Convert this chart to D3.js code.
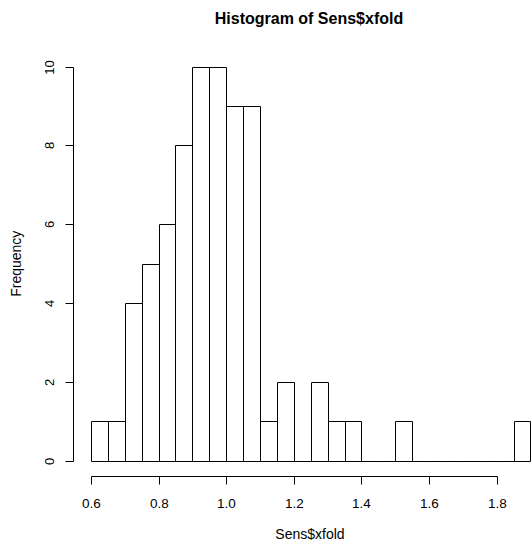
<!DOCTYPE html>
<html>
<head>
<meta charset="utf-8">
<script src="https://cdn.jsdelivr.net/npm/d3@7"></script>
<style>
  html, body { margin: 0; padding: 0; background: #fff; }
  svg { display: block; font-family: "Liberation Sans", Arial, Helvetica, sans-serif; }
</style>
</head>
<body>
<svg id="chart" width="532" height="544"></svg>
<script>
// Histogram bin edges (width 0.05) and counts per bin
const binEdges = [0.60, 0.65, 0.70, 0.75, 0.80, 0.85, 0.90, 0.95, 1.00, 1.05, 1.10,
                  1.15, 1.20, 1.25, 1.30, 1.35, 1.40, 1.45, 1.50, 1.55, 1.60, 1.65,
                  1.70, 1.75, 1.80, 1.85, 1.90];
const counts = [1, 1, 4, 5, 6, 8, 10, 10, 9, 9, 1, 2, 0, 2, 1, 1, 0, 0, 1, 0, 0, 0, 0, 0, 0, 1];
const xTicks = [0.6, 0.8, 1.0, 1.2, 1.4, 1.6, 1.8];
const yTicks = [0, 2, 4, 6, 8, 10];
const xTickLabels = ["0.6", "0.8", "1.0", "1.2", "1.4", "1.6", "1.8"];
const yTickLabels = ["0", "2", "4", "6", "8", "10"];
const title = "Histogram of Sens$xfold";
const xTitle = "Sens$xfold";
const yTitle = "Frequency";

const bins = counts.map((c, i) => ({ x0: binEdges[i], x1: binEdges[i + 1], n: c }));

const svg = d3.select("#chart");

// Plot coordinates: data range padded by 4% on each side
const x = d3.scaleLinear().domain([0.548, 1.952]).range([73.4, 548]);
const y = d3.scaleLinear().domain([0, 10]).range([460.7, 66.7]);

const crisp = v => Math.round(v) + 0.5;

// Bars as closed outlines, so empty bins still show as a line on the baseline
svg.append("g")
  .selectAll("path")
  .data(bins)
  .join("path")
  .attr("d", d => {
    const xa = crisp(x(d.x0)), xb = crisp(x(d.x1));
    const y0 = crisp(y(0)), y1 = crisp(y(d.n));
    return `M${xa},${y0}V${y1}H${xb}V${y0}Z`;
  })
  .attr("fill", "#fff")
  .attr("stroke", "#000")
  .attr("stroke-width", 1);

// X axis
const xAxisY = 476;
const gx = svg.append("g").attr("transform", `translate(0,${crisp(xAxisY)})`);
gx.call(d3.axisBottom(x).tickValues(xTicks).tickSize(8).tickSizeOuter(0)
  .tickFormat((d, i) => xTickLabels[i]));
gx.select(".domain").remove();
gx.append("line")
  .attr("x1", crisp(x(xTicks[0]))).attr("x2", crisp(x(xTicks[xTicks.length - 1])))
  .attr("y1", 0).attr("y2", 0)
  .attr("stroke", "#000");
gx.selectAll(".tick").attr("transform", d => `translate(${crisp(x(d))},0)`);
gx.selectAll(".tick line").attr("stroke", "#000");
gx.selectAll(".tick text")
  .attr("y", 0).attr("dy", 0)
  .attr("transform", "translate(0,31.5)")
  .attr("font-size", 13.5).attr("font-family", null)
  .attr("fill", "#000");

// Y axis
const yAxisX = 73;
const gy = svg.append("g").attr("transform", `translate(${crisp(yAxisX)},0)`);
gy.call(d3.axisLeft(y).tickValues(yTicks).tickSize(8).tickSizeOuter(0)
  .tickFormat((d, i) => yTickLabels[i]));
gy.select(".domain").remove();
gy.append("line")
  .attr("x1", 0).attr("x2", 0)
  .attr("y1", crisp(y(0))).attr("y2", crisp(y(10)))
  .attr("stroke", "#000");
gy.selectAll(".tick").attr("transform", d => `translate(0,${crisp(y(d))})`);
gy.selectAll(".tick line").attr("stroke", "#000");
gy.selectAll(".tick text")
  .attr("x", 0).attr("dy", 0)
  .attr("text-anchor", "middle")
  .attr("transform", "translate(-19.5,0) rotate(-90)")
  .attr("font-size", 13).attr("font-family", null)
  .attr("fill", "#000");

// Titles
svg.append("text")
  .attr("x", 309).attr("y", 24)
  .attr("text-anchor", "middle")
  .attr("font-size", 16).attr("font-weight", "bold")
  .text(title);

svg.append("text")
  .attr("x", 310).attr("y", 539)
  .attr("text-anchor", "middle")
  .attr("font-size", 14)
  .text(xTitle);

svg.append("text")
  .attr("transform", `translate(21,${(y(0) + y(10)) / 2}) rotate(-90)`)
  .attr("text-anchor", "middle")
  .attr("font-size", 14)
  .text(yTitle);
</script>
</body>
</html>
